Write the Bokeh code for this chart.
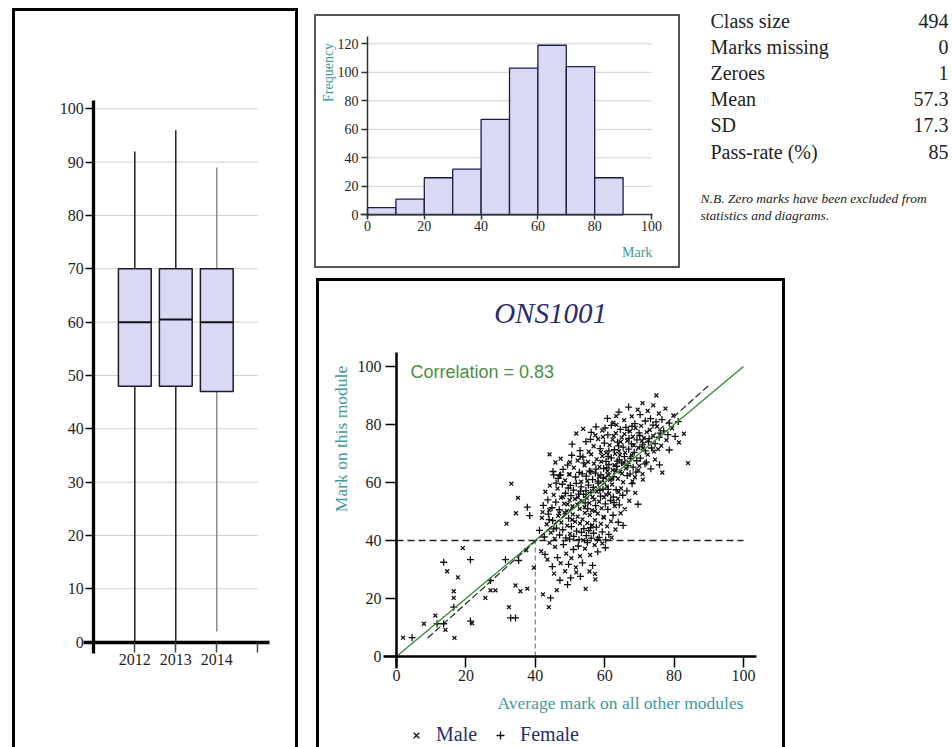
import math
from bokeh.plotting import figure
from bokeh.models import Range1d, FixedTicker, Label, Legend, LegendItem
from bokeh.layouts import row, column
from bokeh.embed import file_html
from bokeh.resources import INLINE
from bokeh.core.properties import value

# ---------------- data ----------------
years = ["2012", "2013", "2014"]
box_pos = [1, 2, 3]
box_q1 = [48, 48, 47]
box_med = [60, 60.5, 60]
box_q3 = [70, 70, 70]
box_lo = [0, 0, 2]
box_hi = [92, 96, 89]
box_ticks = [0, 10, 20, 30, 40, 50, 60, 70, 80, 90, 100]

hist_edges = [0, 10, 20, 30, 40, 50, 60, 70, 80, 90]
hist_counts = [5, 11, 26, 32, 67, 103, 119, 104, 26]
hist_xticks = [0, 20, 40, 60, 80, 100]
hist_yticks = [0, 20, 40, 60, 80, 100, 120]

stats_labels = ["Class size", "Marks missing", "Zeroes", "Mean", "SD", "Pass-rate (%)"]
stats_values = ["494", "0", "1", "57.3", "17.3", "85"]
note_lines = ["N.B. Zero marks have been excluded from", "statistics and diagrams."]

correlation = 0.83
pass_mark = 40
reg_x = [9, 90]
reg_y = [6.4, 93.5]

outliers_m = [(1.9, 6.5), (7.9, 11.3), (11.2, 14.1), (14.1, 9.2), (16.7, 6.4), (14.6, 29.4),
              (17.7, 27.3), (19.1, 37.4), (16.5, 22.5), (16.5, 20.2), (21.8, 11.4), (25.6, 20.2),
              (27.1, 22.8), (28.5, 22.8), (31.7, 45.8), (33.1, 59.6), (32.4, 17.0), (34.4, 49.4),
              (35.0, 54.7), (34.3, 24.5), (35.7, 22.5), (37.7, 23.4), (37.4, 36.6), (39.6, 30.6),
              (41.7, 36.3), (42.2, 21.4), (43.9, 17.0), (44.1, 69.7), (49.7, 62.8), (57.2, 28.5),
              (57.3, 26.6), (54.5, 23.3), (84.0, 66.7), (74.9, 90.0), (82.8, 76.8)]
outliers_f = [(4.5, 6.5), (11.7, 11.3), (13.6, 11.3), (13.6, 32.5), (21.3, 33.4), (16.5, 17.0),
              (21.3, 12.2), (27.1, 26.2), (31.4, 33.4), (32.9, 13.3), (34.3, 13.3), (35.2, 33.1),
              (37.7, 51.5), (38.4, 48.6), (44.4, 20.2), (45.3, 62.6), (47.3, 62.6)]

cloud_20s = [(45.4, 28.6), (47.1, 26.3), (48.6, 29.4), (50.2, 27.1), (51.8, 29.0), (53.0, 27.6),
             (55.6, 29.3), (49.3, 24.8), (46.2, 22.9)]
cloud_30s = [(42.8, 35.2), (43.5, 33.4), (44.9, 31.0), (45.7, 37.8), (46.4, 34.1), (47.3, 32.2),
             (48.1, 38.6), (48.9, 35.5), (49.6, 31.8), (50.4, 33.9), (51.0, 36.9), (51.7, 30.7),
             (52.4, 38.1), (52.9, 34.6), (53.6, 32.3), (54.3, 37.2), (55.0, 39.3), (55.8, 35.0),
             (56.5, 31.4), (57.1, 38.4), (58.0, 36.1), (59.3, 39.0), (60.2, 37.5), (44.1, 39.2)]
cloud_40s = [(41.2, 43.5), (41.9, 47.8), (42.6, 41.2), (43.3, 45.6), (43.8, 49.1), (44.5, 42.7),
             (45.0, 46.9), (45.6, 40.6), (46.1, 44.3), (46.6, 48.5), (47.0, 41.9), (47.5, 46.2),
             (47.9, 43.7), (48.4, 49.6), (48.8, 40.9), (49.2, 45.1), (49.6, 47.7), (50.0, 42.3),
             (50.4, 44.8), (50.8, 49.0), (51.1, 41.4), (51.5, 46.5), (51.9, 43.2), (52.2, 48.2),
             (52.6, 40.3), (52.9, 45.9), (53.3, 42.8), (53.6, 47.3), (54.0, 44.1), (54.3, 49.5),
             (54.7, 41.7), (55.0, 46.0), (55.4, 43.4), (55.7, 48.8), (56.1, 40.8), (56.4, 45.3),
             (56.8, 42.5), (57.2, 47.0), (57.6, 44.6), (58.0, 49.3), (58.4, 41.1), (58.9, 45.7),
             (59.3, 43.0), (59.8, 47.9), (60.3, 40.2), (60.7, 44.9), (61.2, 42.1), (61.8, 46.6),
             (62.4, 48.7), (63.1, 43.8), (63.9, 46.3), (64.6, 49.4), (65.3, 45.2), (42.1, 49.8),
             (44.0, 47.2), (46.9, 49.3), (49.9, 40.5), (53.8, 40.1), (57.9, 40.4), (62.0, 41.0),
             (45.3, 44.0), (50.6, 47.1), (55.9, 44.4), (59.6, 48.1)]
cloud_50s = [(42.3, 52.1), (42.9, 56.8), (43.6, 54.0), (44.2, 58.9), (44.8, 51.3), (45.3, 55.7),
             (45.9, 53.2), (46.4, 57.9), (46.9, 50.6), (47.4, 54.8), (47.8, 59.4), (48.3, 52.7),
             (48.7, 56.3), (49.1, 50.2), (49.5, 58.1), (49.9, 53.9), (50.3, 55.5), (50.7, 51.8),
             (51.0, 57.4), (51.4, 54.3), (51.8, 59.7), (52.1, 52.4), (52.5, 56.0), (52.8, 50.9),
             (53.2, 58.5), (53.5, 53.6), (53.9, 55.9), (54.2, 51.5), (54.6, 57.2), (54.9, 54.6),
             (55.3, 59.1), (55.6, 52.9), (56.0, 56.6), (56.3, 50.4), (56.7, 58.3), (57.0, 54.1),
             (57.4, 52.0), (57.7, 56.9), (58.1, 59.8), (58.4, 53.4), (58.8, 55.3), (59.1, 51.1),
             (59.5, 57.7), (59.8, 54.9), (60.2, 52.6), (60.6, 58.6), (60.9, 50.7), (61.3, 56.1),
             (61.7, 53.8), (62.1, 59.3), (62.5, 55.0), (62.9, 51.9), (63.3, 57.5), (63.8, 54.4),
             (64.2, 52.3), (64.7, 58.0), (65.2, 55.6), (65.8, 50.8), (66.4, 57.1), (67.1, 53.7),
             (67.9, 59.6), (68.8, 56.4), (69.6, 52.5), (44.0, 50.5), (46.0, 59.8), (48.0, 55.0),
             (50.1, 59.0), (52.3, 54.9), (54.4, 53.0), (56.5, 55.0), (58.6, 57.3), (60.4, 55.8),
             (62.7, 53.1), (57.2, 50.1), (53.0, 57.0), (49.3, 52.5), (55.1, 51.0), (59.9, 59.9),
             (61.0, 57.6), (64.0, 56.7)]
cloud_60s = [(45.1, 63.8), (45.8, 66.9), (46.6, 61.4), (47.3, 68.2), (48.0, 64.5), (48.6, 60.7),
             (49.3, 66.0), (49.9, 62.8), (50.5, 69.4), (51.1, 65.1), (51.6, 61.9), (52.2, 67.6),
             (52.7, 63.5), (53.2, 60.3), (53.7, 68.8), (54.2, 65.9), (54.7, 62.2), (55.2, 67.1),
             (55.6, 64.0), (56.1, 69.7), (56.5, 61.0), (56.9, 66.5), (57.3, 63.2), (57.7, 68.0),
             (58.1, 60.5), (58.5, 65.4), (58.9, 62.6), (59.3, 69.1), (59.7, 64.8), (60.0, 61.6),
             (60.4, 67.3), (60.8, 63.9), (61.2, 66.2), (61.5, 60.9), (61.9, 68.5), (62.3, 64.3),
             (62.6, 62.0), (63.0, 69.9), (63.4, 65.6), (63.8, 61.3), (64.2, 67.8), (64.5, 63.7),
             (64.9, 66.8), (65.3, 60.1), (65.7, 68.9), (66.1, 64.9), (66.5, 62.4), (66.9, 67.0),
             (67.3, 63.0), (67.8, 69.3), (68.2, 65.3), (68.7, 61.8), (69.2, 67.5), (69.7, 64.2),
             (70.3, 68.4), (70.9, 62.9), (71.6, 66.4), (72.4, 69.6), (73.3, 64.7), (74.5, 67.9),
             (75.8, 66.1), (76.6, 63.4), (47.0, 62.5), (50.0, 67.0), (52.9, 69.0), (55.0, 60.6),
             (57.5, 64.6), (59.0, 67.2), (60.6, 65.0), (62.0, 61.2), (63.6, 67.4), (65.0, 63.1),
             (66.7, 65.8), (68.0, 60.4), (69.0, 63.6), (70.0, 65.7), (61.0, 69.0), (58.3, 62.1),
             (56.0, 63.7), (64.4, 69.5), (67.5, 68.2), (71.0, 61.0), (54.0, 66.8), (62.8, 66.0),
             (59.6, 61.5), (65.6, 66.6), (53.5, 63.0), (60.9, 62.7), (72.0, 67.0), (63.2, 64.0)]
cloud_70s = [(50.6, 73.2), (51.8, 76.9), (52.9, 71.0), (53.8, 78.5), (54.6, 74.1), (55.4, 70.6),
             (56.1, 77.3), (56.8, 72.5), (57.5, 79.2), (58.1, 75.0), (58.7, 71.7), (59.3, 77.9),
             (59.9, 73.6), (60.4, 70.2), (60.9, 76.4), (61.4, 72.9), (61.9, 79.7), (62.3, 74.8),
             (62.8, 71.3), (63.2, 77.0), (63.7, 73.9), (64.1, 70.8), (64.5, 78.3), (64.9, 75.5),
             (65.3, 72.2), (65.7, 76.7), (66.1, 79.0), (66.5, 74.4), (66.9, 71.5), (67.3, 77.6),
             (67.7, 73.3), (68.1, 75.8), (68.5, 70.4), (68.9, 78.8), (69.3, 74.7), (69.7, 72.0),
             (70.1, 76.2), (70.5, 79.5), (70.9, 73.0), (71.3, 75.3), (71.7, 70.9), (72.1, 77.4),
             (72.6, 74.0), (73.0, 78.1), (73.5, 71.9), (74.0, 76.0), (74.5, 73.4), (75.1, 79.3),
             (75.7, 75.6), (76.3, 72.7), (77.0, 77.8), (77.8, 74.6), (78.6, 71.2), (79.4, 78.7),
             (80.3, 75.9), (81.4, 73.8), (55.9, 74.9), (58.9, 70.5), (60.1, 78.8), (62.6, 76.1),
             (64.0, 72.6), (65.9, 70.3), (67.0, 75.2), (68.4, 72.8), (69.9, 77.1), (71.0, 71.8),
             (72.8, 75.1), (74.2, 70.7), (76.0, 77.0), (63.4, 79.9), (66.8, 78.0), (70.7, 74.3),
             (73.9, 79.8), (59.5, 75.7), (61.2, 70.9), (57.3, 76.3), (78.2, 76.5), (75.4, 71.5),
             (67.9, 79.4), (64.6, 74.0)]
cloud_80s = [(60.8, 82.1), (62.5, 80.6), (64.1, 84.3), (65.6, 81.5), (66.9, 86.0), (67.8, 82.8),
             (68.7, 80.3), (69.5, 85.1), (70.2, 83.4), (70.9, 87.4), (71.7, 81.2), (72.4, 84.7),
             (73.2, 82.0), (74.0, 86.6), (74.8, 80.9), (75.6, 83.8), (76.5, 81.7), (77.5, 85.5),
             (78.6, 80.5), (79.8, 83.1), (81.2, 81.0), (63.3, 82.9)]

cloud = cloud_20s + cloud_30s + cloud_40s + cloud_50s + cloud_60s + cloud_70s + cloud_80s
male_pts = outliers_m + cloud[0::2]
female_pts = outliers_f + cloud[1::2]
male_x = [p[0] for p in male_pts]
male_y = [p[1] for p in male_pts]
female_x = [p[0] for p in female_pts]
female_y = [p[1] for p in female_pts]

# ---------------- styles ----------------
SERIF = "Liberation Serif"
TEAL = "#3f9a9a"
NAVY = "#2b2b6e"
BOXFILL = "#d9d9f6"
GRID = "#cfcfcf"


def make_fig(w, h, xr, yr, outline, margin):
    p = figure(width=w, height=h, x_range=Range1d(*xr), y_range=Range1d(*yr), title=None,
               output_backend="svg", toolbar_location=None, min_border=0,
               min_border_left=0, min_border_right=0, min_border_top=0, min_border_bottom=0,
               margin=margin, styles={"outline": outline} if outline else {})
    p.xgrid.visible = False
    p.ygrid.visible = False
    p.outline_line_color = None
    p.background_fill_color = "white"
    p.border_fill_color = "white"
    return p


def style_axes(p, xb, yb, width, tick_out, font_size, standoff, color="black"):
    p.xaxis.fixed_location = 0
    p.yaxis.fixed_location = 0
    p.xaxis.bounds = xb
    p.yaxis.bounds = yb
    for ax in (p.xaxis, p.yaxis):
        ax.axis_line_width = width
        ax.axis_line_color = color
        ax.major_tick_in = 0
        ax.major_tick_out = tick_out
        ax.major_tick_line_width = 1.5
        ax.major_tick_line_color = color
        ax.minor_tick_line_color = None
        ax.major_label_text_font = SERIF
        ax.major_label_text_font_size = font_size
        ax.major_label_text_color = "#1e1e1e"
        ax.major_label_standoff = standoff


# ---------------- box plot ----------------
# inner panel: x 15..295, y 11..747  (x=0 at px 93.3, 41 px/unit; y=0 at px 641.7, 5.334 px/unit)
bp = make_fig(280, 736, (-1.91, 4.92), (-19.74, 118.24), "3px solid black", (11, 0, 0, 15))
bp.segment(x0=0, x1=4, y0=box_ticks[1:], y1=box_ticks[1:], line_color=GRID, line_width=1)
whisk_col = ["#222222", "#222222", "#8a8a8a"]
bp.segment(x0=box_pos, x1=box_pos, y0=box_lo, y1=box_q1, line_color=whisk_col, line_width=1.5)
bp.segment(x0=box_pos, x1=box_pos, y0=box_q3, y1=box_hi, line_color=whisk_col, line_width=1.5)
bp.vbar(x=box_pos, width=0.8, bottom=box_q1, top=box_q3, fill_color=BOXFILL,
        line_color="#1a1a2a", line_width=1.5)
bp.segment(x0=[b - 0.4 for b in box_pos], x1=[b + 0.4 for b in box_pos], y0=box_med, y1=box_med,
           line_color="#111111", line_width=2)
style_axes(bp, (-0.25, 4.29), (-2.06, 101.6), 3.3, 8, "16px", 2)
bp.xaxis.major_tick_out = 10
bp.xaxis.ticker = FixedTicker(ticks=box_pos + [4])
bp.xaxis.major_label_overrides = {1: years[0], 2: years[1], 3: years[2], 4: ""}
bp.xaxis.major_tick_line_color = "#444444"
bp.yaxis.ticker = FixedTicker(ticks=box_ticks)

# ---------------- histogram ----------------
# inner panel: x 316..678, y 16..266
hp = make_fig(362, 250, (-17.96, 109.51), (-36.28, 139.16), "2px solid #555555", (16, 0, 0, 21))
hp.segment(x0=0, x1=100, y0=hist_yticks[1:], y1=hist_yticks[1:], line_color=GRID, line_width=1)
hp.quad(left=hist_edges[:-1], right=hist_edges[1:], bottom=0, top=hist_counts,
        fill_color=BOXFILL, line_color="#1c1c4c", line_width=1.3)
style_axes(hp, (-2.46, 100.35), (-1.9, 125.4), 1.5, 6, "14px", 3, color="#333333")
hp.xaxis.major_tick_out = 5
hp.xaxis.major_label_standoff = 1
hp.xaxis.ticker = FixedTicker(ticks=hist_xticks)
hp.yaxis.ticker = FixedTicker(ticks=hist_yticks)
hp.add_layout(Label(x=-13.7, y=99.9, text="Frequency", angle=math.pi / 2, text_align="center",
                    text_baseline="middle", text_font=SERIF, text_font_size="14px", text_color=TEAL))
hp.add_layout(Label(x=100.3, y=-26.4, text="Mark", text_align="right", text_baseline="middle",
                    text_font=SERIF, text_font_size="14px", text_color=TEAL))

# ---------------- stats ----------------
# panel: x 690..952, y 0..230 ; y measured downward
sp = make_fig(262, 230, (0, 262), (230, 0), None, (0, 0, 0, 12))
sp.xaxis.visible = False
sp.yaxis.visible = False
rows_y = [20 + 26.2 * i for i in range(len(stats_labels))]
sp.text(x=[20] * len(stats_labels), y=rows_y, text=stats_labels, text_font=value(SERIF),
        text_font_size="20px", text_baseline="middle", text_color="#222222")
sp.text(x=[258] * len(stats_values), y=rows_y, text=stats_values, text_font=value(SERIF),
        text_font_size="20px", text_baseline="middle", text_align="right", text_color="#222222")
sp.text(x=[10, 10], y=[198, 215], text=note_lines, text_font=value(SERIF), text_font_style="italic",
        text_font_size="13.5px", text_baseline="middle", text_color="#222222")

# ---------------- scatter ----------------
# inner panel: x 319..782, y 281..747
cp = make_fig(463, 466, (-22.19, 111.24), (-31.38, 129.31), "3px solid black", (15, 0, 0, 24))
cp.line([0, 100], [pass_mark, pass_mark], line_color="#222222", line_width=1.3, line_dash="7 4")
cp.line([pass_mark, pass_mark], [0, pass_mark], line_color="#8a8a8a", line_width=1.3, line_dash="5 3")
rm = cp.scatter(male_x, male_y, marker="x", size=5.5, line_color="#111111", line_width=1.3)
rf = cp.scatter(female_x, female_y, marker="cross", size=7, line_color="#111111", line_width=1.3)
cp.line([0, 100], [0, 100], line_color="#3a8a3a", line_width=1.4)
cp.line(reg_x, reg_y, line_color="#222222", line_width=1.2, line_dash="7 3")
style_axes(cp, (-3.75, 103.7), (-4.14, 104.8), 2.5, 11, "16px", 4)
cp.xaxis.major_label_standoff = 3
cp.xaxis.ticker = FixedTicker(ticks=hist_xticks)
cp.yaxis.ticker = FixedTicker(ticks=hist_xticks)
cp.add_layout(Label(x=44.4, y=118.6, text="ONS1001", text_align="center", text_baseline="middle",
                    text_font=SERIF, text_font_style="italic", text_font_size="29px", text_color=NAVY))
cp.add_layout(Label(x=4, y=98, text="Correlation = %.2f" % correlation, text_baseline="middle",
                    text_font="Liberation Sans", text_font_size="18px", text_color="#4a8f3f"))
cp.add_layout(Label(x=-16.1, y=75, text="Mark on this module", angle=math.pi / 2, text_align="center",
                    text_baseline="middle", text_font=SERIF, text_font_size="17.5px", text_color=TEAL))
cp.add_layout(Label(x=100, y=-15.9, text="Average mark on all other modules", text_align="right",
                    text_baseline="middle", text_font=SERIF, text_font_size="17.5px", text_color=TEAL))
leg = Legend(items=[LegendItem(label="Male", renderers=[rm]), LegendItem(label="Female", renderers=[rf])],
             orientation="horizontal", location=(87, 1), padding=0, margin=0, spacing=13,
             label_standoff=10, border_line_color=None, background_fill_alpha=0,
             label_text_font=SERIF, label_text_font_size="20px", label_text_color=NAVY,
             glyph_width=20, glyph_height=20)
cp.add_layout(leg)

layout = row(bp, column(row(hp, sp), cp))
open("out.html", "w").write(file_html(layout, INLINE))
